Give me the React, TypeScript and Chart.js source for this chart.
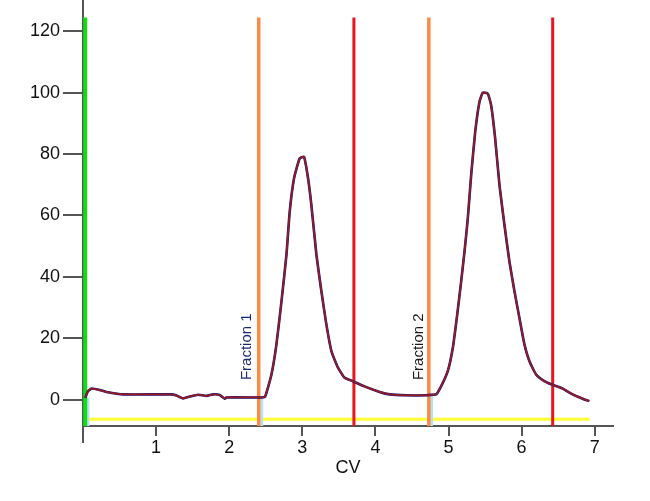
import React, { useEffect, useRef } from "react";
import { Chart, registerables } from "chart.js";

Chart.register(...registerables);

// ---- data ----
const cvValues = [
  0.03, 0.07, 0.12, 0.23, 0.32, 0.55, 1.21, 1.27, 1.37, 1.46, 1.575, 1.69, 1.78, 1.87, 1.94, 1.96,
  2.37, 2.44, 2.49, 2.578, 2.646, 2.715, 2.783, 2.828, 2.887, 2.964, 3.023, 3.078, 3.124, 3.193,
  3.261, 3.329, 3.398, 3.488, 3.579, 3.693, 3.85, 4.057, 4.194, 4.42, 4.695, 4.78, 4.832, 4.9,
  4.99, 5.059, 5.119, 5.173, 5.219, 5.264, 5.31, 5.365, 5.423, 5.469, 5.537, 5.583, 5.638, 5.697,
  5.765, 5.833, 5.902, 5.97, 6.038, 6.107, 6.198, 6.311, 6.403, 6.561, 6.698, 6.835, 6.926,
];
const signalValues = [
  0.6, 2.8, 3.6, 3.1, 2.5, 1.7, 1.7, 1.4, 0.4, 1.0, 1.6, 1.2, 1.7, 1.5, 0.3, 0.7,
  0.7, 0.7, 0.9, 8.2, 18.0, 32.0, 47.2, 61.3, 72.1, 78.6, 79.1, 72.2, 63.4, 47.2,
  35.3, 24.5, 15.8, 10.4, 7.1, 6.0, 4.3, 2.5, 1.7, 1.4, 1.4, 1.6, 1.7, 4.4,
  9.3, 16.9, 27.7, 38.5, 48.3, 59.1, 73.2, 87.2, 97.0, 100, 99.7, 95.9, 85.1, 69.9,
  56.9, 45.0, 35.3, 26.6, 18.0, 12.5, 8.2, 6.0, 5.0, 3.6, 1.7, 0.3, -0.5,
];

const yTickValues = [0, 20, 40, 60, 80, 100, 120];
const xTickValues = [0, 1, 2, 3, 4, 5, 6, 7];

const injectionCv = 0.03;
const fractionStartCv = [2.404, 4.731];
const fractionEndCv = [3.706, 6.425];
const fractionLabels = ["Fraction 1", "Fraction 2"];
const fractionLabelCv = [2.248, 4.592];
const fractionLabelY = 6.35;
const fillMarkCv = [0.068, 2.445, 4.768];
const fillMarkTop = [0.6, 0.7, 1.5];
const thresholdLevel = -6.4;
const thresholdRange = [0.08, 6.93];
const markerTop = 124.5;

const Y_MIN = -8.6;
const Y_MAX = 130.2;
const X_MIN = 0;
const X_MAX = 7.25;

const FONT = "'Liberation Sans', Arial, sans-serif";

export default function App() {
  const canvasRef = useRef<HTMLCanvasElement | null>(null);

  useEffect(() => {
    const canvas = canvasRef.current;
    if (!canvas) return;

    const curve = cvValues.map((x, i) => ({ x, y: signalValues[i] }));
    const vline = (x: number, top: number, bottom: number) => [
      { x, y: top },
      { x, y: bottom },
    ];

    const datasets: any[] = [];
    datasets.push({
      label: "signal",
      data: curve,
      borderColor: "#951d1d",
      borderWidth: 1.8,
      pointRadius: 0,
      tension: 0.15,
      order: 0,
      clip: false,
    });
    datasets.push({
      label: "signal-raw",
      data: curve,
      borderColor: "#12128a",
      borderWidth: 2.6,
      pointRadius: 0,
      tension: 0.15,
      order: 1,
      clip: false,
    });
    datasets.push({
      label: "injection",
      data: vline(injectionCv, markerTop, Y_MIN),
      borderColor: "#11dd11",
      borderWidth: 4,
      pointRadius: 0,
      order: 2,
      clip: false,
    });
    fractionStartCv.forEach((x, i) => {
      datasets.push({
        label: "start" + i,
        data: vline(x, markerTop, Y_MIN),
        borderColor: "#fb8a45",
        borderWidth: 3.5,
        pointRadius: 0,
        order: 3,
        clip: false,
      });
    });
    fractionEndCv.forEach((x, i) => {
      datasets.push({
        label: "end" + i,
        data: vline(x, markerTop, Y_MIN),
        borderColor: "#e8161e",
        borderWidth: 3,
        pointRadius: 0,
        order: 3,
        clip: false,
      });
    });
    fillMarkCv.forEach((x, i) => {
      datasets.push({
        label: "fill" + i,
        data: vline(x, fillMarkTop[i], Y_MIN),
        borderColor: "#b5e1f3",
        borderWidth: 3,
        pointRadius: 0,
        order: 5,
        clip: false,
      });
    });
    datasets.push({
      label: "threshold",
      data: [
        { x: thresholdRange[0], y: thresholdLevel },
        { x: thresholdRange[1], y: thresholdLevel },
      ],
      borderColor: "#ffff33",
      borderWidth: 3,
      pointRadius: 0,
      order: 6,
      clip: false,
    });

    const extrasPlugin = {
      id: "extras",
      afterDraw(chart: any) {
        const { ctx, scales } = chart;
        const xs = scales.x;
        const ys = scales.y;
        ctx.save();
        // y-axis extension below x-axis
        ctx.strokeStyle = "#555555";
        ctx.lineWidth = 2;
        ctx.beginPath();
        ctx.moveTo(xs.left, chart.chartArea.bottom);
        ctx.lineTo(xs.left, chart.chartArea.bottom + 17);
        ctx.stroke();
        // fraction labels
        ctx.font = `15px ${FONT}`;
        ctx.textAlign = "left";
        ctx.textBaseline = "middle";
        fractionLabels.forEach((t, i) => {
          const px = xs.getPixelForValue(fractionLabelCv[i]);
          const py = ys.getPixelForValue(fractionLabelY);
          ctx.save();
          ctx.translate(px, py);
          ctx.rotate(-Math.PI / 2);
          ctx.fillStyle = i === 0 ? "#1b2a78" : "#1a1a1a";
          ctx.fillText(t, 0, 0);
          ctx.restore();
        });
        ctx.restore();
      },
    };

    const chart = new Chart(canvas, {
      type: "line",
      data: { datasets },
      options: {
        animation: false,
        responsive: false,
        maintainAspectRatio: false,
        devicePixelRatio: 1,
        layout: { padding: { left: 0, right: 37, top: 0, bottom: 0 } },
        plugins: {
          legend: { display: false },
          tooltip: { enabled: false },
        },
        scales: {
          x: {
            type: "linear",
            min: X_MIN,
            max: X_MAX,
            afterBuildTicks: (scale: any) => {
              scale.ticks = xTickValues.map((v) => ({ value: v }));
            },
            afterFit: (scale: any) => {
              scale.height = 75;
              scale.paddingLeft = 0;
              scale.paddingRight = 0;
            },
            ticks: {
              autoSkip: false,
              maxRotation: 0,
              padding: 1,
              color: "#111111",
              font: { family: FONT, size: 18 },
              callback: (v: any) => (v === 0 ? "" : String(v)),
            },
            grid: {
              drawOnChartArea: false,
              drawTicks: true,
              tickLength: 10,
              color: "#555555",
              lineWidth: 2,
            },
            border: { color: "#555555", width: 2 },
            title: {
              display: true,
              text: "CV",
              color: "#111111",
              font: { family: FONT, size: 18 },
              padding: { top: 0, bottom: 22 },
            },
          },
          y: {
            type: "linear",
            min: Y_MIN,
            max: Y_MAX,
            afterBuildTicks: (scale: any) => {
              scale.ticks = yTickValues.map((v) => ({ value: v }));
            },
            afterFit: (scale: any) => {
              scale.width = 83;
              scale.paddingTop = 0;
              scale.paddingBottom = 0;
            },
            ticks: {
              padding: 3,
              color: "#111111",
              font: { family: FONT, size: 18 },
            },
            grid: {
              drawOnChartArea: false,
              drawTicks: true,
              tickLength: 20,
              color: "#555555",
              lineWidth: 2,
            },
            border: { color: "#555555", width: 2 },
          },
        },
      },
      plugins: [extrasPlugin],
    } as any);

    return () => chart.destroy();
  }, []);

  return (
    <div style={{ position: "absolute", left: 0, top: 0, width: 650, height: 501, background: "#fff" }}>
      <canvas ref={canvasRef} width={650} height={501} style={{ width: 650, height: 501, display: "block" }} />
    </div>
  );
}
